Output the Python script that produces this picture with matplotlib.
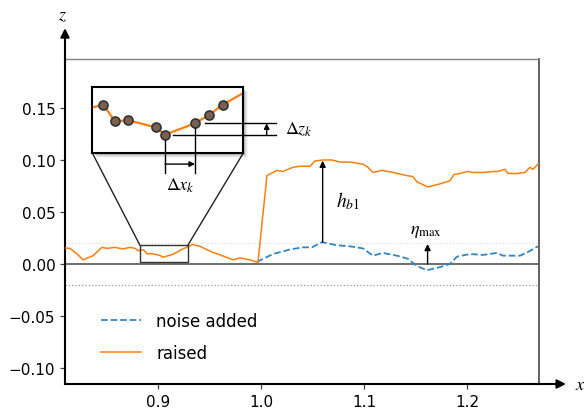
import numpy as np
import matplotlib
matplotlib.use("Agg")
import matplotlib.pyplot as plt
from matplotlib.patches import Rectangle, ConnectionPatch

plt.rcParams['font.family'] = ['DejaVu Sans']
plt.rcParams['mathtext.fontset'] = 'stix'

# ---------------- data ----------------
# raised bed profile (orange)
x_raised = [0.8097, 0.8146, 0.8214, 0.8272, 0.8369, 0.8456, 0.8505, 0.8583, 0.8660,
            0.8728, 0.8777, 0.8805,
            0.88589, 0.88949, 0.89359, 0.90203, 0.90489, 0.91413, 0.91844, 0.92266,
            0.9310, 0.9330, 0.9408, 0.9524, 0.9631, 0.9728, 0.9796, 0.9893, 0.9971,
            1.0058, 1.0117, 1.0155, 1.0214, 1.0311, 1.0379, 1.0476, 1.0524, 1.0602,
            1.0689, 1.0767, 1.0864, 1.0990, 1.1039, 1.1087, 1.1175, 1.1282, 1.1417,
            1.1476, 1.1515, 1.1621, 1.1738, 1.1835, 1.1874, 1.1932, 1.2010, 1.2058,
            1.2155, 1.2272, 1.2301, 1.2369, 1.2398, 1.2485, 1.2563, 1.2612, 1.2641,
            1.2690]
z_raised = [0.0154, 0.0150, 0.0096, 0.0040, 0.0080, 0.0160, 0.0150, 0.0160, 0.0144,
            0.0160, 0.0150, 0.0128,
            0.01369, 0.00972, 0.00996, 0.00826, 0.00646, 0.00923, 0.01126, 0.01376,
            0.0175, 0.0188, 0.0170, 0.0115, 0.0077, 0.0040, 0.0058, 0.0040, 0.0015,
            0.0850, 0.0880, 0.0900, 0.0890, 0.0930, 0.0940, 0.0940, 0.0990, 0.1000,
            0.1000, 0.0980, 0.0980, 0.0960, 0.0930, 0.0880, 0.0900, 0.0880, 0.0850,
            0.0840, 0.0790, 0.0740, 0.0770, 0.0800, 0.0860, 0.0870, 0.0890, 0.0880,
            0.0880, 0.0890, 0.0890, 0.0910, 0.0870, 0.0870, 0.0880, 0.0930, 0.0910,
            0.0960]

# noise added profile (blue dashed)
x_noise = [0.9961, 1.0117, 1.0282, 1.0408, 1.0495, 1.0592, 1.0738, 1.0864, 1.0990,
           1.1087, 1.1184, 1.1320, 1.1427, 1.1515, 1.1612, 1.1738, 1.1835, 1.1903,
           1.2029, 1.2155, 1.2291, 1.2350, 1.2417, 1.2515, 1.2592, 1.2690]
z_noise = [0.0020, 0.0096, 0.0140, 0.0160, 0.0160, 0.0210, 0.0180, 0.0170, 0.0150,
           0.0080, 0.0106, 0.0080, 0.0050, -0.0020, -0.0060, -0.0030, 0.0000, 0.0070,
           0.0096, 0.0087, 0.0106, 0.0080, 0.0080, 0.0080, 0.0115, 0.0170]

xlim = (0.8097, 1.270)
ylim = (-0.1154, 0.1971)
xticks = [0.9, 1.0, 1.1, 1.2]
yticks = [-0.10, -0.05, 0.00, 0.05, 0.10, 0.15]

zoom_xlim = (0.8825, 0.929)
zoom_ylim = (0.002, 0.018)

hb1_x, hb1_z0, hb1_z1 = 1.0599, 0.0209, 0.0993
eta_x, eta_z = 1.1618, 0.0192
band = 0.02

# ---------------- figure ----------------
fig = plt.figure(figsize=(5.84, 4.14), dpi=100)
ax = fig.add_axes([65/584, 1-385/414, (539-65)/584, (385-60)/414])

ax.axhline(0.0, color='#555555', lw=1.2, zorder=1)
ax.axhline(band, color='#dddddd', lw=0.9, ls=':', zorder=1)
ax.axhline(-band, color='#9a9a9a', lw=0.9, ls=':', zorder=1)

ax.plot(x_noise, z_noise, ls='--', color='#2f86c8', lw=1.3, label='noise added', zorder=3)
ax.plot(x_raised, z_raised, ls='-', color='#ff7f0e', lw=1.1, label='raised', zorder=4)

ax.set_xlim(*xlim)
ax.set_ylim(*ylim)
ax.set_xticks(xticks)
ax.set_yticks(yticks)
ax.tick_params(labelsize=11, length=3.5, width=0.9, color='#444444')

for s in ['left', 'bottom']:
    ax.spines[s].set_color('black')
    ax.spines[s].set_linewidth(1.5)
ax.spines['top'].set_color('#808080')
ax.spines['top'].set_linewidth(1.0)
ax.spines['right'].set_color('#555555')
ax.spines['right'].set_linewidth(1.3)

# axis arrows
ax.annotate('', xy=(0, 1.095), xytext=(0, 0.99), xycoords='axes fraction',
            arrowprops=dict(arrowstyle='-|>', color='black', lw=1.5, mutation_scale=13,
                            shrinkA=0, shrinkB=0), annotation_clip=False)
ax.annotate('', xy=(1.057, 0), xytext=(0.99, 0), xycoords='axes fraction',
            arrowprops=dict(arrowstyle='-|>', color='black', lw=1.5, mutation_scale=13,
                            shrinkA=0, shrinkB=0), annotation_clip=False)
ax.text(-0.005, 1.138, '$z$', transform=ax.transAxes, fontsize=13, ha='center', va='center')
ax.text(1.087, 0.0, '$x$', transform=ax.transAxes, fontsize=13, ha='center', va='center')

# h_b1 and eta_max
ax.annotate('', xy=(hb1_x, hb1_z1), xytext=(hb1_x, hb1_z0),
            arrowprops=dict(arrowstyle='-|>', color='black', lw=1.0, mutation_scale=9,
                            shrinkA=0, shrinkB=0), zorder=5)
ax.text(1.073, 0.0615, '$h_{b1}$', fontsize=14, ha='left', va='center')
ax.annotate('', xy=(eta_x, eta_z), xytext=(eta_x, 0.0),
            arrowprops=dict(arrowstyle='-|>', color='black', lw=1.0, mutation_scale=9,
                            shrinkA=0, shrinkB=0), zorder=5)
ax.text(1.1607, 0.0322, r'$\eta_{\max}$', fontsize=13, ha='center', va='center')

# zoom rectangle on main axes
ax.add_patch(Rectangle((zoom_xlim[0], zoom_ylim[0]), zoom_xlim[1]-zoom_xlim[0],
                       zoom_ylim[1]-zoom_ylim[0], fill=False, edgecolor='#333333',
                       lw=1.0, zorder=5))

# legend
leg = ax.legend(loc='upper left', bbox_to_anchor=(0.045, 0.268), frameon=False,
                fontsize=12, handlelength=2.4, labelspacing=0.85, handletextpad=0.9)

# ---------------- inset ----------------
ins_pos = [92.3/584, 1-154/414, (243.3-92.3)/584, (154-88.3)/414]
# soft shadow
for i, a in enumerate([0.10, 0.08, 0.06, 0.04]):
    off = 1.5 + i * 1.2
    sh = Rectangle((ins_pos[0] + off/584, ins_pos[1] - off/414), ins_pos[2], ins_pos[3],
                   transform=fig.transFigure, facecolor='black', edgecolor='none',
                   alpha=a, zorder=0.5)
    fig.add_artist(sh)

axins = fig.add_axes(ins_pos)
axins.set_zorder(10)
axins.plot(x_raised, z_raised, color='#ff7f0e', lw=1.6, zorder=2)
xr = np.array(x_raised)
zr = np.array(z_raised)
m = (xr > zoom_xlim[0] + 0.0008) & (xr < zoom_xlim[1] - 0.0008)
axins.plot(xr[m], zr[m], ls='none', marker='o', ms=6.5, mfc='#7a6050', mec='#333333',
           mew=1.2, zorder=3)
axins.set_xlim(*zoom_xlim)
axins.set_ylim(*zoom_ylim)
axins.set_xticks([])
axins.set_yticks([])
for s in axins.spines.values():
    s.set_linewidth(1.5)
    s.set_color('black')

# delta annotations (relative to two consecutive markers)
xk = xr[m]
zk = zr[m]
i0 = int(np.argmin(zk))
xa, za = xk[i0], zk[i0]
xb, zb = xk[i0 + 1], zk[i0 + 1]
x_right = 0.939
z_low = -0.0029
lk = dict(color='black', lw=1.0, clip_on=False, zorder=4)
axins.plot([xa + 0.0025, x_right], [za, za], **lk)
axins.plot([xb + 0.003, x_right], [zb, zb], **lk)
axins.plot([xa, xa], [za - 0.0012, z_low], **lk)
axins.plot([xb, xb], [zb - 0.0012, z_low], **lk)
axins.annotate('', xy=(0.9362, zb), xytext=(0.9362, za),
               arrowprops=dict(arrowstyle='-|>', color='black', lw=1.0, mutation_scale=8,
                               shrinkA=0, shrinkB=0), annotation_clip=False)
axins.annotate('', xy=(xb, -0.0007), xytext=(xa, -0.0007),
               arrowprops=dict(arrowstyle='-|>', color='black', lw=1.0, mutation_scale=8,
                               shrinkA=0, shrinkB=0), annotation_clip=False)
axins.text(0.9418, (za + zb) / 2, r'$\Delta z_k$', fontsize=13, ha='left', va='center',
           clip_on=False)
axins.text((xa + xb) / 2, -0.0058, r'$\Delta x_k$', fontsize=13, ha='center', va='center',
           clip_on=False)

# connectors
for xa_c, xi_c in [(zoom_xlim[0], 0), (zoom_xlim[1], 1)]:
    cp = ConnectionPatch(xyA=(xa_c, zoom_ylim[1]), coordsA=ax.transData,
                         xyB=(xi_c, 0), coordsB=axins.transAxes,
                         color='#222222', lw=1.0, zorder=2)
    fig.add_artist(cp)

fig.savefig('out.png', dpi=100)
